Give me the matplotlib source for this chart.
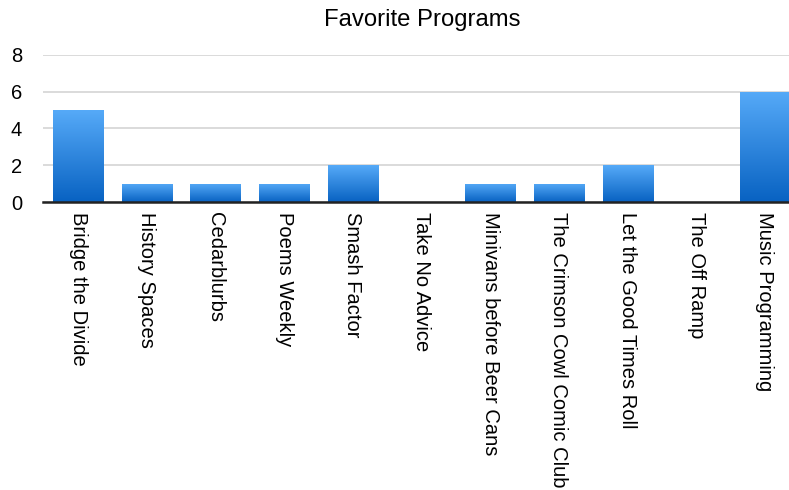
import numpy as np
import matplotlib
matplotlib.use("Agg")
import matplotlib.pyplot as plt
from matplotlib.colors import LinearSegmentedColormap

programs = ["Bridge the Divide", "History Spaces", "Cedarblurbs", "Poems Weekly",
            "Smash Factor", "Take No Advice", "Minivans before Beer Cans",
            "The Crimson Cowl Comic Club", "Let the Good Times Roll",
            "The Off Ramp", "Music Programming"]
votes = [5, 1, 1, 1, 2, 0, 1, 1, 2, 0, 6]
yticks = [0, 2, 4, 6, 8]

plt.rcParams['font.family'] = ['Liberation Sans', 'DejaVu Sans']

fig = plt.figure(figsize=(7.89, 4.90), dpi=100)
ax = fig.add_axes([43 / 789, 1 - 202 / 490, 1 - 43 / 789, (202 - 55) / 490])

x = np.arange(len(programs))
bars = ax.bar(x, votes, width=0.73, color="none", edgecolor="none", zorder=3)

# vertical blue gradient clipped to each bar
blues = LinearSegmentedColormap.from_list("blues", ["#0862c2", "#56aaf8"])
grad = np.linspace(0, 1, 256).reshape(-1, 1)
for b in bars:
    if b.get_height() <= 0:
        continue
    x0, w, h = b.get_x(), b.get_width(), b.get_height()
    im = ax.imshow(grad, cmap=blues, origin="lower", aspect="auto",
                   extent=[x0, x0 + w, 0, h], zorder=3)
    im.set_clip_path(b)

ax.set_xlim(-0.51, len(programs) - 0.65)
ax.set_ylim(0, 8)
ax.set_yticks(yticks)
ax.set_xticks(x)
ax.set_xticklabels(programs, rotation=270, ha="center", va="top", fontsize=14.5)
ax.tick_params(axis="both", length=0, labelsize=14.5, colors="black")
ax.tick_params(axis="y", pad=15)
ax.tick_params(axis="x", pad=7)

ax.grid(axis="y", color="#d4d4d4", linewidth=1.2, zorder=0)
for side in ["top", "right", "left"]:
    ax.spines[side].set_visible(False)
ax.spines["bottom"].set_linewidth(1.8)
ax.spines["bottom"].set_color("#222222")
ax.spines["bottom"].set_zorder(4)

fig.text(422.5 / 789, 1 - 20 / 490, "Favorite Programs", ha="center", va="center", fontsize=17.2)

fig.savefig("out.png", dpi=100)
